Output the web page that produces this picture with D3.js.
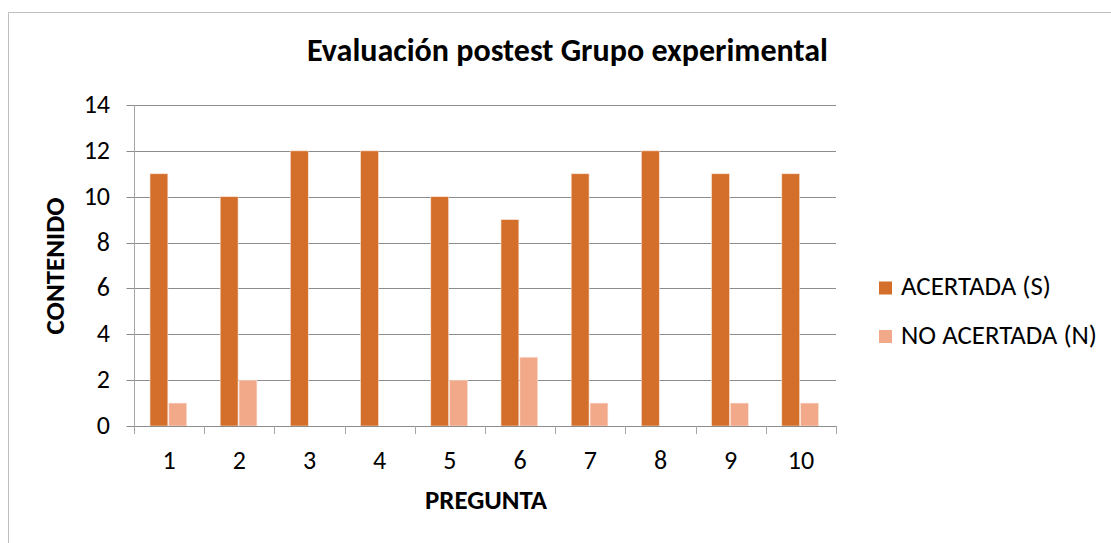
<!DOCTYPE html>
<html><head><meta charset="utf-8">
<script src="https://cdn.jsdelivr.net/npm/d3@7"></script>
<style>
html,body{margin:0;padding:0;background:#fff;}
svg{display:block;font-family:Carlito,Calibri,Lato,"Open Sans",sans-serif;}
</style></head>
<body><svg id="c" width="1111" height="543"></svg>
<script>
const categories = ["1","2","3","4","5","6","7","8","9","10"];
const acertada = [11,10,12,12,10,9,11,12,11,11];
const noAcertada = [1,2,0,0,2,3,1,0,1,1];
const seriesNames = ["ACERTADA (S)","NO ACERTADA (N)"];
const seriesColors = ["#D36F2B","#F2A98A"];
const yTicks = [0,2,4,6,8,10,12,14];
const title = "Evaluación postest Grupo experimental";
const xTitle = "PREGUNTA";
const yTitle = "CONTENIDO";

const svg = d3.select("#c");
const L = 134, R = 836, T = 105, B = 426;

function fit(sel, target){
  const w = sel.node().getComputedTextLength();
  const fs = parseFloat(sel.style("font-size"));
  sel.style("font-size", (fs*target/w)+"px");
}

// frame
svg.append("path").attr("d","M8.5,543 L8.5,12.5 L1111,12.5")
  .attr("fill","none").attr("stroke","#bfbfbf").attr("stroke-width",1);

const x = d3.scaleBand().domain(categories).range([L,R]).paddingInner(0).paddingOuter(0);
const y = d3.scaleLinear().domain([0,14]).range([B,T]);
const groupOffset = 16/70.2;
const xs = d3.scaleBand().domain([0,1]).range([x.bandwidth()*groupOffset, x.bandwidth()*(1-groupOffset)-0.5]).padding(0);

// gridlines
svg.append("g").selectAll("line").data(yTicks).join("line")
  .attr("x1",L-7.5).attr("x2",R).attr("y1",d=>Math.round(y(d))+0.5).attr("y2",d=>Math.round(y(d))+0.5)
  .attr("stroke","#8c8c8c").attr("stroke-width",1);

// bars
const data = categories.map((c,i)=>({c, v:[acertada[i], noAcertada[i]]}));
const g = svg.append("g");
data.forEach(d=>{
  d.v.forEach((v,j)=>{
    if(v<=0) return;
    g.append("rect")
      .attr("x", x(d.c)+xs(j)).attr("width", xs.bandwidth()-1)
      .attr("y", y(v)).attr("height", y(0)-y(v))
      .attr("fill", seriesColors[j]).attr("stroke","#fbe3d6").attr("stroke-width",0.6);
  });
});

// y axis line
svg.append("line").attr("x1",L+0.5).attr("x2",L+0.5).attr("y1",T).attr("y2",B)
  .attr("stroke","#a6a6a6");
// x axis line & ticks
svg.append("line").attr("x1",L).attr("x2",R).attr("y1",Math.round(B)+0.5).attr("y2",Math.round(B)+0.5)
  .attr("stroke","#8c8c8c");
const bounds = categories.map(c=>x(c)).concat([R]);
svg.append("g").selectAll("line").data(bounds).join("line")
  .attr("x1",d=>Math.round(d)+0.5).attr("x2",d=>Math.round(d)+0.5).attr("y1",B).attr("y2",B+8)
  .attr("stroke","#a6a6a6");

// y tick labels
svg.append("g").selectAll("text").data(yTicks).join("text")
  .attr("x",110).attr("y",d=>y(d)+8).attr("text-anchor","end")
  .style("font-size","26px").attr("fill","#000").text(d=>d);

// x tick labels
svg.append("g").selectAll("text").data(categories).join("text")
  .attr("x",d=>x(d)+x.bandwidth()/2).attr("y",469).attr("text-anchor","middle")
  .style("font-size","26px").attr("fill","#000").text(d=>d);

// title
const tt = svg.append("text").attr("x",567.5).attr("y",61).attr("text-anchor","middle")
  .style("font-size","24px").attr("font-weight","bold").text(title);
fit(tt, 521);

const xt = svg.append("text").attr("x",486).attr("y",509).attr("text-anchor","middle")
  .style("font-size","18px").attr("font-weight","bold").text(xTitle);
fit(xt, 122);

const yt = svg.append("text").attr("transform","translate(64,266) rotate(-90)").attr("text-anchor","middle")
  .style("font-size","18px").attr("font-weight","bold").text(yTitle);
fit(yt, 137);

// legend
const lg = svg.append("g");
const legendY = [288, 336.5];
const legendW = [150, 196];
seriesNames.forEach((n,i)=>{
  lg.append("rect").attr("x",879).attr("y",legendY[i]-6.5).attr("width",13).attr("height",13)
    .attr("fill",seriesColors[i]);
  const t = lg.append("text").attr("x",901).attr("y",legendY[i]+7).style("font-size","20px").text(n);
  fit(t, legendW[i]);
});
</script></body></html>
